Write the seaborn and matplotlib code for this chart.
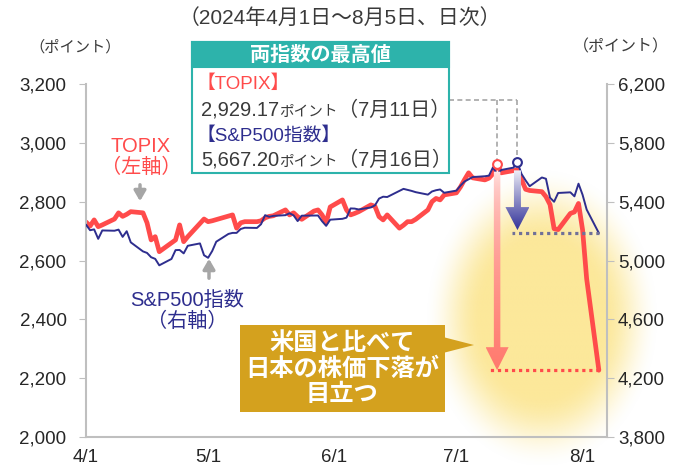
import numpy as np
import pandas as pd
import seaborn as sns
import matplotlib.pyplot as plt
import matplotlib.dates as mdates
import matplotlib.colors as mcolors
from matplotlib.patches import Polygon, Rectangle

# TOPIX (Japan trading days)
topix_dates = ["2024-04-01", "2024-04-02", "2024-04-03", "2024-04-04", "2024-04-05", "2024-04-08",
               "2024-04-09", "2024-04-10", "2024-04-11", "2024-04-12", "2024-04-15", "2024-04-16",
               "2024-04-17", "2024-04-18", "2024-04-19", "2024-04-22", "2024-04-23", "2024-04-24",
               "2024-04-25", "2024-04-26", "2024-04-30",
               "2024-05-01", "2024-05-02", "2024-05-07", "2024-05-08", "2024-05-09", "2024-05-10",
               "2024-05-13", "2024-05-14", "2024-05-15", "2024-05-16", "2024-05-17", "2024-05-20",
               "2024-05-21", "2024-05-22", "2024-05-23", "2024-05-24", "2024-05-27", "2024-05-28",
               "2024-05-29", "2024-05-30", "2024-05-31",
               "2024-06-03", "2024-06-04", "2024-06-05", "2024-06-06", "2024-06-07", "2024-06-10",
               "2024-06-11", "2024-06-12", "2024-06-13", "2024-06-14", "2024-06-17", "2024-06-18",
               "2024-06-19", "2024-06-20", "2024-06-21", "2024-06-24", "2024-06-25", "2024-06-26",
               "2024-06-27", "2024-06-28",
               "2024-07-01", "2024-07-02", "2024-07-03", "2024-07-04", "2024-07-05", "2024-07-08",
               "2024-07-09", "2024-07-10", "2024-07-11", "2024-07-12", "2024-07-16", "2024-07-17",
               "2024-07-18", "2024-07-19", "2024-07-22", "2024-07-23", "2024-07-24", "2024-07-25",
               "2024-07-26", "2024-07-29", "2024-07-30", "2024-07-31",
               "2024-08-01", "2024-08-02", "2024-08-05"]
topix_vals = [2731, 2717, 2738, 2715, 2721, 2741, 2762, 2750, 2757, 2766, 2762, 2728,
              2670, 2681, 2630, 2660, 2670, 2721, 2664, 2681, 2741,
              2732, 2735, 2755, 2710, 2728, 2732, 2732, 2735, 2745, 2750, 2752, 2772,
              2755, 2762, 2749, 2740, 2768, 2772, 2755, 2728, 2782,
              2806, 2772, 2755, 2760, 2766, 2789, 2784, 2749, 2738, 2755, 2710, 2720,
              2732, 2732, 2740, 2772, 2800, 2811, 2806, 2823,
              2830, 2850, 2875, 2898, 2881, 2874, 2880, 2895, 2929.17, 2898, 2908, 2875,
              2842, 2838, 2834, 2817, 2790, 2708, 2705, 2760, 2765, 2794,
              2704, 2538, 2227.15]

# S&P500 (US trading days)
sp_dates = ["2024-04-01", "2024-04-02", "2024-04-03", "2024-04-04", "2024-04-05", "2024-04-08",
            "2024-04-09", "2024-04-10", "2024-04-11", "2024-04-12", "2024-04-15", "2024-04-16",
            "2024-04-17", "2024-04-18", "2024-04-19", "2024-04-22", "2024-04-23", "2024-04-24",
            "2024-04-25", "2024-04-26", "2024-04-29", "2024-04-30",
            "2024-05-01", "2024-05-02", "2024-05-03", "2024-05-06", "2024-05-07", "2024-05-08",
            "2024-05-09", "2024-05-10", "2024-05-13", "2024-05-14", "2024-05-15", "2024-05-16",
            "2024-05-17", "2024-05-20", "2024-05-21", "2024-05-22", "2024-05-23", "2024-05-24",
            "2024-05-28", "2024-05-29", "2024-05-30", "2024-05-31",
            "2024-06-03", "2024-06-04", "2024-06-05", "2024-06-06", "2024-06-07", "2024-06-10",
            "2024-06-11", "2024-06-12", "2024-06-13", "2024-06-14", "2024-06-17", "2024-06-18",
            "2024-06-20", "2024-06-21", "2024-06-24", "2024-06-25", "2024-06-26", "2024-06-27",
            "2024-06-28",
            "2024-07-01", "2024-07-02", "2024-07-03", "2024-07-05", "2024-07-08", "2024-07-09",
            "2024-07-10", "2024-07-11", "2024-07-12", "2024-07-15", "2024-07-16", "2024-07-17",
            "2024-07-18", "2024-07-19", "2024-07-22", "2024-07-23", "2024-07-24", "2024-07-25",
            "2024-07-26", "2024-07-29", "2024-07-30", "2024-07-31",
            "2024-08-01", "2024-08-02", "2024-08-05"]
sp_vals = [5243.77, 5205.81, 5211.49, 5147.21, 5204.34, 5202.39, 5209.91, 5160.64, 5199.06,
           5123.41, 5061.82, 5051.41, 5022.21, 5011.12, 4967.23, 5010.60, 5070.55, 5071.63,
           5048.42, 5099.96, 5116.17, 5035.69,
           5018.39, 5064.20, 5127.79, 5180.74, 5187.70, 5187.67, 5214.08, 5222.68, 5221.42,
           5246.68, 5308.15, 5297.10, 5303.27, 5308.13, 5321.41, 5307.01, 5267.84, 5304.72,
           5306.04, 5266.95, 5235.48, 5277.51,
           5283.40, 5291.34, 5354.03, 5352.96, 5346.99, 5360.79, 5375.32, 5421.03, 5433.74,
           5431.60, 5473.23, 5487.03, 5473.17, 5464.62, 5447.87, 5469.30, 5477.90, 5482.87,
           5460.48,
           5475.09, 5509.01, 5537.02, 5567.19, 5572.85, 5576.98, 5633.91, 5584.54, 5615.35,
           5631.22, 5667.20, 5588.27, 5544.59, 5505.00, 5564.41, 5555.74, 5427.13, 5399.22,
           5459.10, 5463.54, 5436.44, 5522.30,
           5446.68, 5346.56, 5186.33]

x_ticks = ["2024-04-01", "2024-05-01", "2024-06-01", "2024-07-01", "2024-08-01"]
x_labels = ["4/1", "5/1", "6/1", "7/1", "8/1"]
left_ticks = [2000, 2200, 2400, 2600, 2800, 3000, 3200]
right_ticks = [3800, 4200, 4600, 5000, 5400, 5800, 6200]

RED = "#FF4B4B"
NAVY = "#2E2E8E"
TEAL = "#2DB3AB"
GOLD = "#D4A11E"
GRAY = "#A6A6A6"
TXT = "#3A3A3A"

topix = pd.DataFrame({"date": pd.to_datetime(topix_dates), "value": topix_vals})
sp = pd.DataFrame({"date": pd.to_datetime(sp_dates), "value": sp_vals})

sns.set_style("white")
plt.rcParams["font.family"] = ["Liberation Sans", "Noto Sans CJK JP"]

W, H = 680, 471
fig = plt.figure(figsize=(W / 100, H / 100), dpi=100)

bg = fig.add_axes([0, 0, 1, 1], zorder=0)
ax = fig.add_axes([86 / W, 34 / H, 521 / W, 353 / H], zorder=2)
ax.set_facecolor("none")
ax2 = ax.twinx()
ax2.set_zorder(3)
ax2.patch.set_visible(False)
fg = fig.add_axes([0, 0, 1, 1], zorder=5)
fg.patch.set_visible(False)

sns.lineplot(data=topix, x="date", y="value", ax=ax, color=RED, lw=3.4)
sns.lineplot(data=sp, x="date", y="value", ax=ax2, color=NAVY, lw=1.4)

x0 = pd.Timestamp("2024-04-01")
ax.set_xlim(x0, x0 + pd.Timedelta(days=128))
ax.set_ylim(2000, 3200)
ax2.set_ylim(3800, 6200)
ax.set_xticks(pd.to_datetime(x_ticks))
ax.set_xticklabels(x_labels)
ax.set_yticks(left_ticks)
ax.set_yticklabels([f"{v:,}" for v in left_ticks])
ax2.set_yticks(right_ticks)
ax2.set_yticklabels([f"{v:,}" for v in right_ticks])
for a in (ax, ax2):
    a.set_xlabel("")
    a.set_ylabel("")
    for s in a.spines.values():
        s.set_color("#BFBFBF")
        s.set_linewidth(1.5)
    a.spines["top"].set_visible(False)
ax.spines["right"].set_visible(False)
ax2.spines["left"].set_visible(False)
ax2.spines["bottom"].set_visible(False)
ax.tick_params(axis="y", direction="out", length=5, color="#BFBFBF", labelsize=13.5, pad=9)
ax.tick_params(axis="x", direction="out", length=4, color="#BFBFBF", labelsize=13.5, pad=5)
ax2.tick_params(axis="y", direction="out", length=5, color="#BFBFBF", labelsize=13.5, pad=3)


def to_px(a, date, val):
    dx, dy = a.transData.transform((mdates.date2num(pd.Timestamp(date)), val))
    return dx, H - dy


# yellow glow behind the drop
gx = np.linspace(420, 670, 300)
gy = np.linspace(170, 465, 300)
GX, GY = np.meshgrid(gx, gy)
r = np.sqrt(((GX - 542) / 105) ** 2 + ((GY - 318) / 135) ** 2)
alpha = np.clip((1.12 - r) / 0.55, 0, 1)
alpha = alpha * alpha * (3 - 2 * alpha)
glow = np.zeros(GX.shape + (4,))
glow[..., :3] = mcolors.to_rgb("#FCE89A")
glow[..., 3] = alpha
bg.imshow(glow, extent=(420, 670, 465, 170), origin="upper", aspect="auto")
bg.set_xlim(0, W)
bg.set_ylim(H, 0)
bg.axis("off")

# peaks and end levels
rpx, rpy = to_px(ax, "2024-07-11", topix_vals[topix_dates.index("2024-07-11")])
bpx, bpy = to_px(ax2, "2024-07-16", sp_vals[sp_dates.index("2024-07-16")])
_, r_end = to_px(ax, "2024-08-05", topix_vals[-1])
ex, b_end = to_px(ax2, "2024-08-05", sp_vals[-1])


def grad_arrow(x, y0, y1, shaft_w, head_w, head_h, c_top, c_bot, gamma=1.0):
    hw, hh = shaft_w / 2, head_w / 2
    pts = [(x - hw, y0), (x + hw, y0), (x + hw, y1 - head_h), (x + hh, y1 - head_h),
           (x, y1), (x - hh, y1 - head_h), (x - hw, y1 - head_h)]
    poly = Polygon(pts, closed=True, facecolor="none", edgecolor="none")
    fg.add_patch(poly)
    t = np.linspace(0, 1, 256)[:, None, None] ** gamma
    c0 = np.array(mcolors.to_rgba(c_top))
    c1 = np.array(mcolors.to_rgba(c_bot))
    img = c0 + (c1 - c0) * t
    im = fg.imshow(img, extent=(x - hh, x + hh, y1, y0), origin="upper", aspect="auto", zorder=4)
    im.set_clip_path(poly)


grad_arrow(rpx, rpy + 8, r_end, 6.5, 23, 23, "#FFF0F0", "#FF7A6E", gamma=0.45)
grad_arrow(bpx, bpy + 8, b_end - 3, 7, 24, 23, "#F2F2F8", "#34349A", gamma=0.9)

fg.plot([ex, rpx - 7], [r_end, r_end], ls=(0, (1, 1.2)), color=RED, lw=2.3, zorder=5)
fg.plot([ex, bpx - 5], [b_end, b_end], ls=(0, (1, 1.2)), color="#707098", lw=2.3, zorder=5)

# dashed leaders from box to peaks
fg.plot([449, bpx], [100, 100], ls=(0, (3, 2)), color=GRAY, lw=1.2, zorder=3)
fg.plot([bpx, bpx], [100, bpy - 4], ls=(0, (3, 2)), color=GRAY, lw=1.2, zorder=3)
fg.plot([rpx, rpx], [100, rpy - 4], ls=(0, (3, 2)), color=GRAY, lw=1.2, zorder=3)
fg.scatter([rpx], [rpy], s=40, facecolor="white", edgecolor=RED, lw=1.5, zorder=6)
fg.scatter([bpx], [bpy], s=40, facecolor="white", edgecolor=NAVY, lw=1.5, zorder=6)

# title and units
fg.text(340, 18, "（2024年4月1日～8月5日、日次）", ha="center", va="center", fontsize=15, color=TXT)
fg.text(75, 47, "（ポイント）", ha="center", va="center", fontsize=11, color=TXT)
fg.text(621, 47, "（ポイント）", ha="center", va="center", fontsize=11.5, color=TXT)

# highs box
fg.add_patch(Rectangle((192, 42), 257, 131, facecolor="white", edgecolor=TEAL, lw=1.5, zorder=6))
fg.add_patch(Rectangle((192, 42), 257, 25, facecolor=TEAL, edgecolor=TEAL, lw=1.5, zorder=6))
fg.text(320, 55, "両指数の最高値", ha="center", va="center", fontsize=14.5, fontweight="bold",
        color="white", zorder=7)
fg.text(197, 84, "【TOPIX】", ha="left", va="center", fontsize=13.5, color=RED, zorder=7)
fg.text(197, 136, "【S&P500指数】", ha="left", va="center", fontsize=13.5, color=NAVY, zorder=7)

renderer = fig.canvas.get_renderer()


def mixed_line(x, y, parts):
    for s, size in parts:
        t = fg.text(x, y, s, ha="left", va="baseline", fontsize=size, color=TXT, zorder=7)
        x += t.get_window_extent(renderer).width


mixed_line(201, 116, [("2,929.17", 14.5), ("ポイント", 10.5), ("（7月11日）", 14.5)])
mixed_line(201, 166, [("5,667.20", 14.5), ("ポイント", 10.5), ("（7月16日）", 14.5)])

# series labels
fg.text(141, 146, "TOPIX", ha="center", va="center", fontsize=14.5, color=RED)
fg.text(141, 167, "（左軸）", ha="center", va="center", fontsize=14.5, color=RED)
fg.annotate("", xy=(140, 204), xytext=(140, 182),
            arrowprops=dict(arrowstyle="-|>,head_width=0.35,head_length=0.6", color=GRAY, lw=2.5))
fg.text(187, 300, "S&P500指数", ha="center", va="center", fontsize=14.5, color=NAVY)
fg.text(187, 321, "（右軸）", ha="center", va="center", fontsize=14.5, color=NAVY)
fg.annotate("", xy=(209, 256), xytext=(209, 281),
            arrowprops=dict(arrowstyle="-|>,head_width=0.35,head_length=0.6", color=GRAY, lw=2.5))

# callout
fg.add_patch(Polygon([(443, 337), (474, 345), (443, 353)], closed=True, facecolor=GOLD,
                     edgecolor="none", zorder=6))
fg.add_patch(Rectangle((240, 325), 205, 87, facecolor=GOLD, edgecolor="none", zorder=6))
fg.text(342, 369, "米国と比べて\n日本の株価下落が\n目立つ", ha="center", va="center", fontsize=17.5,
        fontweight="bold", color="white", linespacing=1.12, zorder=7)

fg.set_xlim(0, W)
fg.set_ylim(H, 0)
fg.axis("off")

fig.savefig("out.png", dpi=100)
